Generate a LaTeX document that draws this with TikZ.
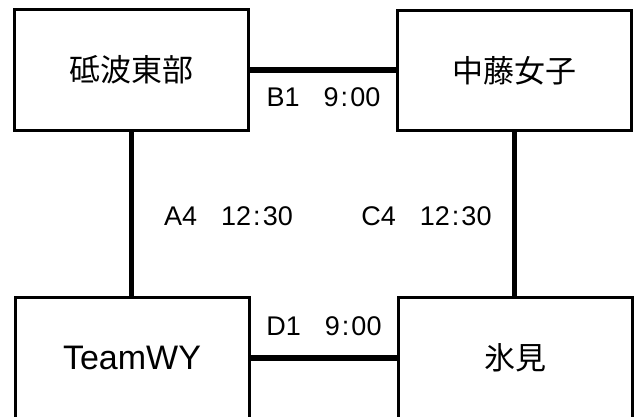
\documentclass[tikz,border=0pt]{standalone}
\usepackage{fontspec}
\setmainfont{Liberation Sans}
\newfontfamily\jpfont{Noto Sans CJK JP}
\begin{document}
\begin{tikzpicture}[x=1pt,y=-1pt,
  team/.style={draw, line width=3pt, minimum width=234pt, minimum height=120.5pt, inner sep=0pt},
  jp/.style={font=\jpfont\fontsize{31}{34}\selectfont},
  lat/.style={font=\fontsize{34}{38}\selectfont},
  link/.style={line width=5.5pt},
  lbl/.style={font=\fontsize{27}{30}\selectfont, inner sep=0pt}]
\useasboundingbox (0,0) rectangle (641,417);
\node[team, jp] (tl) at (131.5,70) {砥波東部};
\node[team, jp] (tr) at (514.5,70.5) {中藤女子};
\node[team, lat] (bl) at (132,358) {TeamWY};
\node[team, jp] (br) at (515,358) {氷見};
\draw[link] (tl.east) -- (tl.east -| tr.west);
\draw[link] (bl.east) -- (bl.east -| br.west);
\draw[link] (tl.south) -- (tl.south |- bl.north);
\draw[link] (tr.south) -- (tr.south |- br.north);
\node[lbl] (lb) at (323.5,97.5) {B1\hspace{24pt}9\kern2pt:\kern2pt00};
\node[lbl] (ld) at (324,326.5) {D1\hspace{24pt}9\kern2pt:\kern2pt00};
\node[lbl] (la) at (228.5,216.5) {A4\hspace{24pt}12\kern2pt:\kern2pt30};
\node[lbl] (lc) at (426.5,216.5) {C4\hspace{24pt}12\kern2pt:\kern2pt30};
\end{tikzpicture}
\end{document}
